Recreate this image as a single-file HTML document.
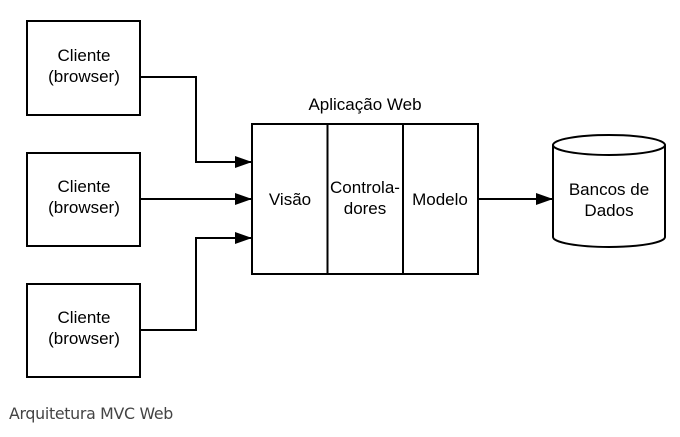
<!DOCTYPE html>
<html><head><style>
html,body{margin:0;padding:0;background:#fff;width:680px;height:437px;overflow:hidden}
svg{position:absolute;left:0;top:0}
.cap{position:absolute;left:9px;top:404px;font:15.8px "DejaVu Sans","Liberation Sans",sans-serif;color:#444;letter-spacing:-0.3px}
</style></head><body>
<svg width="680" height="437" xmlns="http://www.w3.org/2000/svg" font-family="Liberation Sans, sans-serif" font-size="17" fill="none" stroke="#000" stroke-width="2">
<defs><marker id="a" markerWidth="17" markerHeight="12" refX="16" refY="6" orient="auto" markerUnits="userSpaceOnUse"><path d="M0,0 L17,6 L0,12 Z" fill="#000" stroke="none"/></marker></defs>
<rect x="27" y="21" width="113" height="94"/>
<rect x="27" y="153" width="113" height="93"/>
<rect x="27" y="284" width="113" height="93"/>
<rect x="252" y="124" width="226" height="150"/>
<line x1="327.5" y1="124" x2="327.5" y2="274"/>
<line x1="403" y1="124" x2="403" y2="274"/>
<polyline points="140,77 196,77 196,162 251,162" marker-end="url(#a)"/>
<line x1="140" y1="199" x2="251" y2="199" marker-end="url(#a)"/>
<polyline points="140,330 196,330 196,238 251,238" marker-end="url(#a)"/>
<line x1="478" y1="199" x2="552" y2="199" marker-end="url(#a)"/>
<path d="M553,145 L553,237 A56,10 0 0 0 665,237 L665,145"/>
<ellipse cx="609" cy="145" rx="56" ry="10"/>
<g fill="#000" stroke="none" text-anchor="middle">
<text x="84" y="61">Cliente</text><text x="84" y="82">(browser)</text>
<text x="84" y="192">Cliente</text><text x="84" y="213">(browser)</text>
<text x="84" y="323">Cliente</text><text x="84" y="344">(browser)</text>
<text x="365" y="110">Aplicação Web</text>
<text x="290" y="205">Visão</text>
<text x="365" y="193">Controla-</text><text x="365" y="214">dores</text>
<text x="440" y="205">Modelo</text>
<text x="609" y="195">Bancos de</text><text x="609" y="216">Dados</text>
</g>
</svg>
<div class="cap">Arquitetura MVC Web</div>
</body></html>
